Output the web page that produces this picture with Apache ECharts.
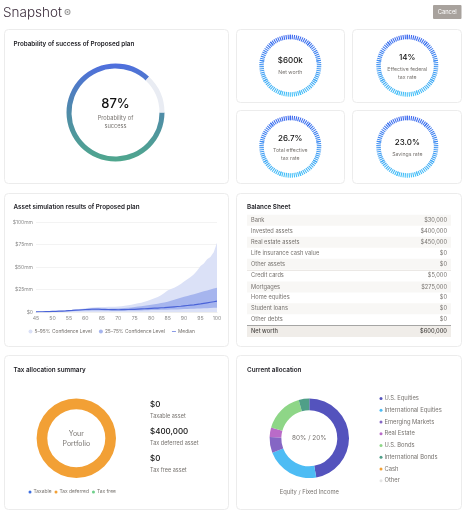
<!DOCTYPE html>
<html><head><meta charset="utf-8">
<script src="https://cdn.jsdelivr.net/npm/echarts@6/dist/echarts.min.js"></script>
<style>html,body{margin:0;padding:0;background:#fff}#c{width:464px;height:512px}</style>
</head><body><div id="c"></div>
<script>
const FONT = 'Inter, Roboto, sans-serif';
const successValues = [87, 13];
const kpiValues = ['$600k', '14%', '26.7%', '23.0%'];
const kpiLabels = [['Net worth'], ['Effective federal', 'tax rate'], ['Total effective', 'tax rate'], ['Savings rate']];
const ages = [45,46,47,48,49,50,51,52,53,54,55,56,57,58,59,60,61,62,63,64,65,66,67,68,69,70,71,72,73,74,75,76,77,78,79,80,81,82,83,84,85,86,87,88,89,90,91,92,93,94,95,96,97,98,99,100];
const p95 = [0.3,0.4,0.5,0.6,0.7,0.9,1.1,1.3,1.5,1.7,2,2.4,2.8,3.2,3.7,4.2,4.7,5.1,5.3,5.5,5.6,5.6,5.7,5.8,5.9,6,6.4,6.9,7.4,8,9,9.7,10.4,11.3,12.6,14,15.4,16.8,18.6,21,24,25.6,27,28.8,31,34,36.5,39,42,46,51,54,58.5,61,66.5,77];
const p75 = [0.2,0.3,0.4,0.5,0.6,0.8,0.9,1.1,1.3,1.5,1.7,2,2.3,2.5,2.8,3,3.2,3.4,3.5,3.5,3.6,3.6,3.7,3.8,3.9,4,4.2,4.5,4.8,5.1,5.5,6,6.4,6.9,7.4,8,8.6,9.2,9.9,10.6,11.5,12.5,13.5,14.6,15.8,17,17.9,18.8,19.8,20.9,22,23,24,25,26.2,27];
const p50 = [0.2,0.3,0.3,0.4,0.5,0.6,0.7,0.9,1,1.2,1.5,1.7,2,2.2,2.5,2.8,3,3.1,3.2,3.1,3,2.9,2.8,2.7,2.6,2.5,2.6,2.7,2.8,2.9,3,3.2,3.4,3.6,3.8,4,4.2,4.4,4.7,4.9,5.2,5.5,5.8,6.1,6.4,6.8,7.2,7.6,8,8.5,9,9.6,10.2,10.8,11.4,12];
const p25 = [0.1,0.1,0.2,0.2,0.3,0.4,0.4,0.5,0.6,0.7,0.8,0.9,1,1.1,1.3,1.5,1.5,1.6,1.6,1.6,1.6,1.5,1.5,1.5,1.5,1.5,1.5,1.6,1.6,1.6,1.7,1.8,1.8,1.9,2,2.1,2.2,2.3,2.4,2.5,2.6,2.7,2.8,2.9,3,3.2,3.3,3.5,3.6,3.8,4,4.1,4.3,4.4,4.6,4.7];
const bandNames = ['5–95% Confidence Level', '25–75% Confidence Level', 'Median'];
const balanceLabels = ['Bank','Invested assets','Real estate assets','Life insurance cash value','Other assets','Credit cards','Mortgages','Home equities','Student loans','Other debts'];
const balanceValues = ['$30,000','$400,000','$450,000','$0','$0','$5,000','$275,000','$0','$0','$0'];
const netWorth = '$600,000';
const taxNames = ['Taxable','Tax deferred','Tax free'];
const taxValues = [0, 400000, 0];
const taxLabels = ['$0','$400,000','$0'];
const taxCaptions = ['Taxable asset','Tax deferred asset','Tax free asset'];
const allocNames = ['U.S. Equities','International Equities','Emerging Markets','Real Estate','U.S. Bonds','International Bonds','Cash','Other'];
const allocValues = [47.2,21.9,6.4,3.9,16.3,4.3,0,0];

const allocColors = ['#5453bd','#4dbcf4','#8566c4','#b96bc8','#8ed687','#4f9f88','#f2a035','#e4e4e4'];
const taxColors = ['#3f6fe0','#f2a035','#6ed08a'];
const G = echarts.graphic;
const g = [];
const text = (x, y, t, size, color, opt = {}) => g.push({type:'text', x, y, z:20, silent:true, style:Object.assign({
  text:t, fontSize:size, fill:color, fontFamily:FONT, align:'left', verticalAlign:'middle'}, opt)});
const rect = (x, y, w, h, fill, z = 1, r = 0, stroke) => g.push({type:'rect', z, silent:true,
  shape:{x, y, width:w, height:h, r}, style:{fill, stroke, lineWidth:stroke ? 1 : 0}});
const GREY = '#77736f', DARK = '#1c1c22';
[[4.5,29.5,224,154],[236.5,29.5,108,73],[352.5,29.5,109,73],[236.5,110.5,108,73],[352.5,110.5,109,73],
 [4.5,193.5,224,153],[236.5,193.5,225,153],[4.5,355.5,224,154],[236.5,355.5,225,154]]
 .forEach(c => rect(c[0], c[1], c[2], c[3], '#fff', 0, 4, '#ececec'));
text(3, 12.5, 'Snapshot', 13.5, '#3a2b3a', {fontWeight:300});
g.push({type:'ring', z:20, silent:true, shape:{cx:67.5, cy:12, r:3, r0:2}, style:{fill:'#9a9a9a'}});
g.push({type:'circle', z:20, silent:true, shape:{cx:67.5, cy:12, r:1}, style:{fill:'#9a9a9a'}});
rect(433, 5, 28.5, 14, '#a8a29d', 1, 1);
text(447.2, 12.2, 'Cancel', 5.8, '#fff', {align:'center'});
[['Probability of success of Proposed plan',13.5,44.5],['Asset simulation results of Proposed plan',13.5,206.8],
 ['Balance Sheet',247,206.8],['Tax allocation summary',13.5,370],['Current allocation',247,370]]
 .forEach(t => text(t[1], t[2], t[0], 6.3, DARK, {fontWeight:600}));
text(115.5, 104.5, '87%', 13, '#111', {align:'center', fontWeight:500});
text(115.5, 118.7, 'Probability of', 5.7, GREY, {align:'center'});
text(115.5, 126.5, 'success', 5.7, GREY, {align:'center'});

const kpiPos = [[290.3,65.7,61,[72.7]],[407.3,65.7,58,[69,77]],[290.3,146.7,139,[150.5,158]],[407.3,146.7,142.7,[154.7]]];
kpiPos.forEach((p, i) => {
  text(p[0], p[2], kpiValues[i], 8, '#111', {align:'center', fontWeight:500});
  kpiLabels[i].forEach((l, j) => text(p[0], p[3][j], l, 5.2, GREY, {align:'center'}));
});

balanceLabels.forEach((l, i) => {
  const y = [220.3,231.3,242.3,253.3,264.3,275.7,287,297.7,308.7,319.3][i];
  if (i % 2 === 0) rect(247, y - 5.5, 204, 11, '#f8f7f5');
  text(251, y, l, 5.7, GREY);
  text(447, y, balanceValues[i], 5.7, GREY, {align:'right'});
});
rect(247, 270, 204, 0.8, '#e4e1dc', 2);
rect(247, 325.5, 204, 11.5, '#f0ede9');
rect(247, 325, 204, 0.8, '#8a8a8a', 2);
text(251, 331.3, 'Net worth', 5.7, '#4a4744', {fontWeight:500});
text(447, 331.3, netWorth, 5.7, '#4a4744', {align:'right', fontWeight:500});

text(76.3, 434, 'Your', 7, GREY, {align:'center'});
text(76.3, 443.7, 'Portfolio', 7, GREY, {align:'center'});
[[404.5,416],[432,443.5],[459,470.5]].forEach((p, i) => {
  text(150, p[0], taxLabels[i], 8, '#111', {fontWeight:500});
  text(150, p[1], taxCaptions[i], 5.5, GREY);
});
text(309.3, 438.5, '80% / 20%', 6.4, GREY, {align:'center'});
text(309.3, 492, 'Equity / Fixed Income', 5.8, GREY, {align:'center'});

const successGrad = new G.LinearGradient(0, 63, 0, 162, [
  {offset:0, color:'#4f6edf'},{offset:0.5, color:'#4f8ba8'},{offset:1, color:'#4fa78d'}], true);
const gaugeSeries = kpiPos.map(p => ({
  type:'gauge', center:[p[0], p[1]], radius:31, startAngle:90, endAngle:-270, min:0, max:90,
  splitNumber:9, pointer:{show:false}, progress:{show:false}, axisLine:{show:false, lineStyle:{width:0}},
  splitLine:{show:false}, axisLabel:{show:false}, detail:{show:false}, title:{show:false},
  axisTick:{show:true, distance:0, length:4.5, splitNumber:10, lineStyle:{width:1.1,
    color:new G.LinearGradient(0, p[1]-31, 0, p[1]+31, [
      {offset:0, color:'#3c66ee'},{offset:0.5, color:'#3f93f2'},{offset:1, color:'#45c3f8'}], true)}},
  data:[]
}));
const band = (name, data, color, z) => ({type:'line', name, data:ages.map((a, i) => [a, data[i]]), symbol:'none', silent:true,
  lineStyle:{width:0}, itemStyle:{color}, areaStyle:{color, opacity:1}, z});

const chart = echarts.init(document.getElementById('c'), null, {renderer:'canvas'});
chart.setOption({
  animation:false, backgroundColor:'#fff',
  grid:{left:36, top:222, width:181, height:90},
  xAxis:{type:'value', min:45, max:100, interval:5, axisTick:{show:false}, splitLine:{show:false},
    axisLine:{lineStyle:{color:'#eeeeee'}}, axisLabel:{fontSize:5.2, color:'#8a8a8a', fontFamily:FONT, margin:3.5, hideOverlap:false}},
  yAxis:{type:'value', min:0, max:100, interval:25, axisTick:{show:false}, axisLine:{show:false},
    splitLine:{lineStyle:{color:'#f3f3f3', width:1}},
    axisLabel:{fontSize:5, color:'#8a8a8a', fontFamily:FONT, margin:3, formatter:v => v === 0 ? '$0' : '$' + v + 'mm'}},
  legend:[
    {left:23.5, top:324, itemWidth:4, itemHeight:4, itemGap:7, textStyle:{fontSize:4.85, color:GREY, fontFamily:FONT, padding:[0,0,0,-3]},
     data:[{name:bandNames[0], icon:'circle'},{name:bandNames[1], icon:'circle'},{name:bandNames[2], icon:'path://M0 4.2h10v1.6h-10z'}]},
    {left:23.5, top:484.5, itemWidth:3, itemHeight:3, itemGap:3, textStyle:{fontSize:4.9, color:GREY, fontFamily:FONT, padding:[0,0,0,-3]},
     icon:'circle', itemStyle:{borderWidth:0}, data:taxNames},
    {left:374.5, top:390.5, orient:'vertical', itemWidth:3, itemHeight:3, itemGap:5.75, textStyle:{fontSize:5.8, color:GREY, fontFamily:FONT, padding:[0,0,0,-3]},
     icon:'circle', data:allocNames}
  ],
  graphic:{elements:g},
  series:[
    {type:'pie', center:[115.5,112.5], radius:[44,49], startAngle:0, clockwise:true, silent:true, label:{show:false}, labelLine:{show:false},
     data:[{value:successValues[0], itemStyle:{color:successGrad}},{value:successValues[1], itemStyle:{color:'#e9ecf3'}}]},
    ...gaugeSeries,
    band(bandNames[0], p95, '#dbe1f7', 2),
    band(bandNames[1], p75, '#a6b5ee', 3),
    band('p25', p25, '#dbe1f7', 4),
    {type:'line', name:bandNames[2], data:ages.map((a, i) => [a, p50[i]]), symbol:'none', silent:true, z:6,
     lineStyle:{width:1.2, color:'#4a63d8'}, itemStyle:{color:'#4a63d8'}},
    {type:'pie', center:[76.3,438.3], radius:[29,39.7], startAngle:90, silent:true, label:{show:false}, labelLine:{show:false},
     data:taxNames.map((n, i) => ({name:n, value:taxValues[i], itemStyle:{color:taxColors[i]}}))},
    {type:'pie', center:[309.3,438.3], radius:[28,39.7], startAngle:90, silent:true, label:{show:false}, labelLine:{show:false},
     data:allocNames.map((n, i) => ({name:n, value:allocValues[i], itemStyle:{color:allocColors[i]}}))}
  ]
});
</script></body></html>
